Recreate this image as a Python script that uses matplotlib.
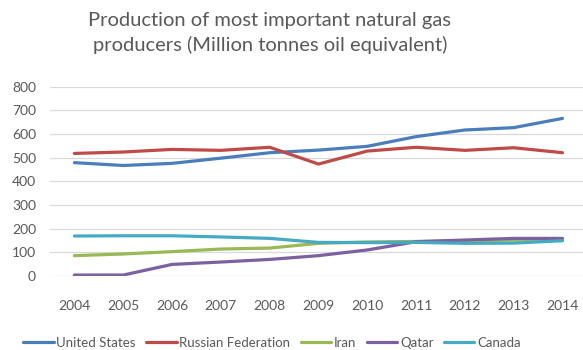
import matplotlib
matplotlib.use("Agg")
import matplotlib.pyplot as plt

# Data
years = [2004, 2005, 2006, 2007, 2008, 2009, 2010, 2011, 2012, 2013, 2014]
united_states = [479, 467, 476, 498, 521, 532, 548, 589, 617, 627, 666]
russia = [518, 524, 535, 531, 544, 473, 528, 544, 531, 542, 521]
iran = [86, 93, 103, 114, 118, 138, 144, 146, 149, 152, 152]
qatar = [4, 4, 49, 59, 70, 86, 110, 145, 152, 159, 159]
canada = [169, 170, 170, 165, 159, 142, 141, 142, 138, 139, 149]

series = [
    ("United States", united_states, "#4A7EBB"),
    ("Russian Federation", russia, "#BE4B48"),
    ("Iran", iran, "#98B954"),
    ("Qatar", qatar, "#7D60A0"),
    ("Canada", canada, "#46AAC5"),
]

plt.rcParams["font.family"] = ["Lato", "DejaVu Sans"]
text_color = "#595959"

fig = plt.figure(figsize=(5.83, 3.5), dpi=100)
ax = fig.add_axes([50 / 583, 1 - 276 / 350, 533 / 583, (276 - 86.7) / 350])

for name, values, color in series:
    ax.plot(years, values, color=color, linewidth=2.3, label=name,
            solid_capstyle="round", solid_joinstyle="round")

ax.set_xlim(2003.5, 2014.42)
ax.set_ylim(0, 800)
ax.set_xticks(years)
ax.set_yticks(range(0, 801, 100))
ax.grid(axis="y", color="#D9D9D9", linewidth=0.9)
ax.set_axisbelow(True)
for s in ax.spines.values():
    s.set_visible(False)
ax.tick_params(length=0, labelsize=10, colors=text_color)
ax.tick_params(axis="x", pad=17)
ax.tick_params(axis="y", pad=10)

fig.text(270 / 583, 1 - 33 / 350,
         "Production of most important natural gas\nproducers (Million tonnes oil equivalent)",
         ha="center", va="center", fontsize=14.5, color=text_color, linespacing=1.45)

fig.legend(loc="center", bbox_to_anchor=(272 / 583, 1 - 343 / 350), ncol=5,
           frameon=False, fontsize=9.5, handlelength=2.3, handletextpad=0.2,
           columnspacing=0.8, labelcolor=text_color, borderpad=0, borderaxespad=0)

fig.savefig("out.png", dpi=100)
